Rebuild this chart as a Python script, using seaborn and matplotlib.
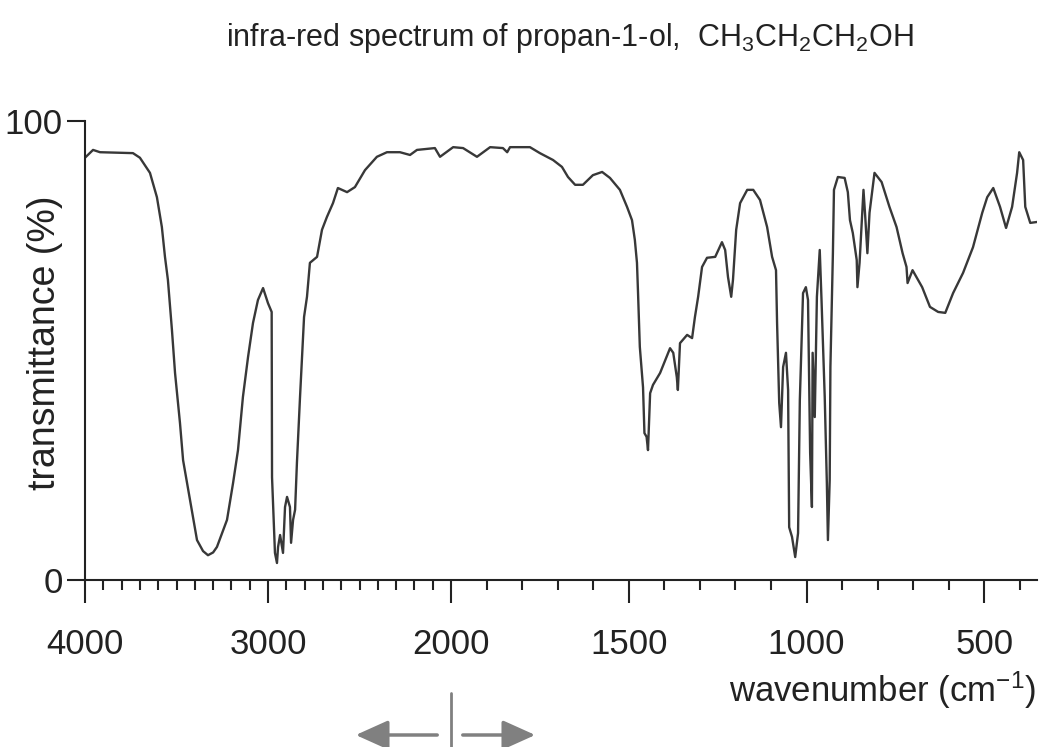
import numpy as np
import pandas as pd
import matplotlib
matplotlib.use("Agg")
import matplotlib.pyplot as plt
from matplotlib.patches import FancyArrowPatch
from matplotlib.lines import Line2D
import seaborn as sns

# ---- data ----
wavenumber = [4000, 3956, 3918, 3738, 3700, 3645, 3607, 3580, 3563, 3547, 3525, 3508, 3481, 3464,
              3426, 3388, 3355, 3328, 3300, 3279, 3224, 3191, 3164, 3137, 3109, 3082, 3055, 3027, 3000, 2980,
              2978, 2962, 2951, 2945, 2934, 2918, 2907, 2896, 2880, 2874, 2863, 2852, 2842, 2825,
              2814, 2803, 2787, 2771, 2732, 2705, 2678, 2645, 2618, 2568, 2525, 2470, 2405, 2350,
              2279, 2224, 2186, 2088, 2060, 1994, 1966, 1927, 1890, 1854, 1842, 1834, 1778, 1750,
              1713, 1688, 1671, 1651, 1629, 1601, 1575, 1553, 1525, 1505, 1491, 1483, 1477, 1474,
              1469, 1460, 1456, 1450, 1446, 1440, 1432, 1412, 1384, 1375, 1365, 1362, 1356, 1336,
              1322, 1314, 1305, 1294, 1280, 1257, 1238, 1229, 1221, 1212, 1207, 1198, 1187, 1167,
              1150, 1131, 1111, 1097, 1086, 1083, 1077, 1072, 1066, 1058, 1052, 1049, 1041, 1032,
              1024, 1019, 1010, 1002, 996, 990, 985, 983, 977, 971, 963, 958, 949, 943, 940, 935,
              933, 926, 923, 912, 893, 884, 878, 870, 859, 857, 851, 840, 835, 829, 823, 809, 789,
              767, 747, 730, 719, 716, 702, 675, 653, 630, 610, 588, 560, 532, 506, 492, 475, 456,
              439, 422, 408, 402, 391, 385, 371, 352]
transmittance = [92.0, 93.7, 93.2, 93.0, 92.0, 88.7, 83.4, 76.9, 70.4, 65.4, 54.5, 45.1, 34.2, 26.1,
                 17.4, 8.7, 6.3, 5.4, 6.0, 7.2, 13.1, 21.1, 28.3, 39.9, 48.6, 56.0, 61.0, 63.6, 60.3, 58.4,
                 22.4, 5.9, 3.7, 7.2, 9.8, 5.9, 15.9, 18.1, 15.9, 8.1, 13.1, 15.3, 25.5, 39.9,
                 48.6, 57.3, 61.7, 69.1, 70.4, 76.3, 79.1, 82.1, 85.4, 84.5, 85.6, 89.3, 92.2, 93.2,
                 93.2, 92.6, 93.7, 94.1, 92.2, 94.3, 94.1, 92.2, 94.3, 94.1, 93.2, 94.3, 94.3, 93.0,
                 91.5, 90.0, 87.8, 86.1, 86.1, 88.2, 88.9, 87.6, 85.0, 81.3, 78.4, 74.1, 69.1, 62.5,
                 50.8, 42.0, 32.0, 31.2, 28.3, 40.7, 42.5, 45.1, 50.5, 49.5, 44.2, 41.4, 51.6, 53.4,
                 52.7, 57.3, 61.7, 68.2, 70.2, 70.4, 73.6, 71.9, 66.0, 61.7, 65.4, 76.3, 82.1, 85.0,
                 85.0, 82.8, 76.9, 70.4, 67.5, 56.0, 38.6, 33.3, 46.4, 49.5, 41.4, 11.5, 9.4, 5.0,
                 10.2, 39.2, 62.5, 63.8, 61.0, 27.7, 15.9, 49.5, 35.5, 61.7, 71.9, 61.0, 39.9, 21.1, 8.7, 21.8,
                 46.4, 71.2, 85.0, 87.8, 87.6, 84.5, 78.4, 75.6, 69.7, 63.8, 69.1, 85.0, 79.1, 71.2, 80.0, 88.7, 86.7,
                 81.3, 76.9, 71.2, 68.2, 64.7, 67.5, 63.8, 59.5, 58.4, 58.2, 62.5, 66.9, 72.5, 80.0, 83.4, 85.4, 81.3,
                 76.7, 81.3, 88.7, 93.2, 91.5, 81.3, 77.8, 78.0]

major_ticks = [4000, 3000, 2000, 1500, 1000, 500]
minor_ticks = [w for w in range(3900, 399, -100) if w not in major_ticks]
y_ticks = [0, 100]
y_tick_labels = ["0", "100"]

df = pd.DataFrame({"wavenumber": wavenumber, "transmittance": transmittance})

sns.set_theme(style="ticks")
plt.rcParams["font.family"] = ["Liberation Sans", "DejaVu Sans"]
plt.rcParams["mathtext.default"] = "regular"

W, H = 1039, 747
fig = plt.figure(figsize=(W / 100, H / 100), dpi=100)
ax = fig.add_axes([85 / W, (H - 580) / H, 952 / W, (580 - 121) / H])

line_col = "#383838"
sns.lineplot(data=df, x="wavenumber", y="transmittance", ax=ax, sort=False,
             estimator=None, color=line_col, linewidth=1.7)

# scale break at 2000 cm-1: lower wavenumbers drawn at about twice the scale
K = 1.943
def fwd(x):
    x = np.asarray(x, dtype=float)
    return np.where(x >= 2000, x, 2000 - K * (2000 - x))
def inv(u):
    u = np.asarray(u, dtype=float)
    return np.where(u >= 2000, u, 2000 - (2000 - u) / K)
ax.set_xscale("function", functions=(fwd, inv))
ax.set_xlim(4000, 352)
ax.set_ylim(0, 100)

ax.set_xticks(major_ticks)
ax.set_xticklabels([str(t) for t in major_ticks])
ax.set_xticks(minor_ticks, minor=True)
ax.set_yticks(y_ticks)
ax.set_yticklabels(y_tick_labels)
ax.yaxis.set_minor_locator(matplotlib.ticker.NullLocator())

ax.tick_params(axis="x", which="major", direction="out", length=16.5, width=1.5,
               color="#222222", labelsize=25, pad=18, labelcolor="#222222")
ax.tick_params(axis="x", which="minor", direction="out", length=7.5, width=1.5,
               color="#222222")
ax.tick_params(axis="y", which="major", direction="out", length=13, width=1.5,
               color="#222222", labelsize=25, pad=3, labelcolor="#222222")

for s in ["top", "right"]:
    ax.spines[s].set_visible(False)
for s in ["left", "bottom"]:
    ax.spines[s].set_linewidth(1.5)
    ax.spines[s].set_color("#222222")
ax.set_xlabel("")
ax.set_ylabel("")
ax.grid(False)

fig.text(570 / W, 1 - 38 / H, "infra-red spectrum of propan-1-ol,  CH$_3$CH$_2$CH$_2$OH",
         ha="center", va="center", fontsize=22, color="#222222")
fig.text(45 / W, 1 - 343 / H, "transmittance (%)", rotation=90, ha="center", va="center",
         fontsize=27, color="#222222")
fig.text(1036 / W, 1 - 690 / H, "wavenumber (cm$^{-1}$)", ha="right", va="center",
         fontsize=25, color="#222222")

# direction arrows below the axis
gray = "#808080"
ya = 1 - 735 / H
fig.add_artist(FancyArrowPatch((440 / W, ya), (353 / W, ya), transform=fig.transFigure,
                               arrowstyle="-|>,head_length=1.0,head_width=0.45",
                               mutation_scale=20, color=gray, lw=2.5))
fig.add_artist(FancyArrowPatch((460 / W, ya), (538 / W, ya), transform=fig.transFigure,
                               arrowstyle="-|>,head_length=1.0,head_width=0.45",
                               mutation_scale=20, color=gray, lw=2.5))
fig.add_artist(Line2D([451 / W, 451 / W], [0, 1 - 693 / H], transform=fig.transFigure,
                      color=gray, lw=2))

fig.savefig("out.png", dpi=100)
